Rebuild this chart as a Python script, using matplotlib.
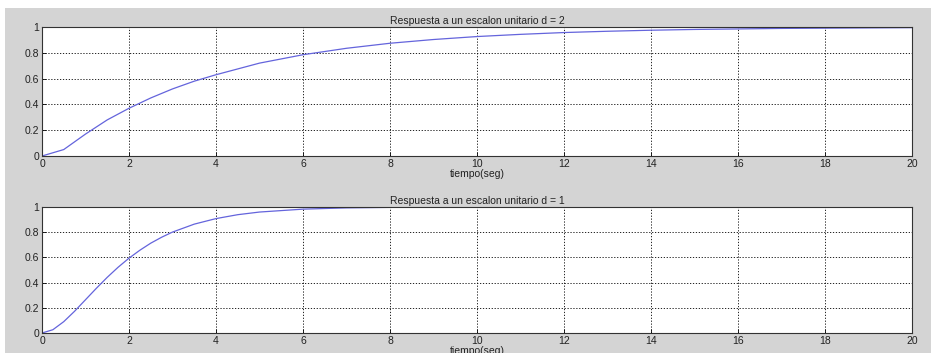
import matplotlib
matplotlib.use("Agg")
from matplotlib import pyplot as plt
from matplotlib.patches import Rectangle

# step response, damping d = 2
t_d2 = [0, 0.5, 1, 1.5, 2, 2.5, 3, 3.5, 4, 5, 6, 7, 8, 9, 10,
        11, 12, 13, 14, 15, 16, 17, 18, 19, 20]
y_d2 = [0, 0.05, 0.17, 0.28, 0.37, 0.45, 0.52, 0.58, 0.63, 0.72, 0.785,
        0.835, 0.874, 0.903, 0.926, 0.943, 0.957, 0.967, 0.975, 0.981,
        0.985, 0.989, 0.991, 0.993, 0.995]

# step response, damping d = 1
t_d1 = [0, 0.25, 0.5, 0.75, 1, 1.25, 1.5, 1.75, 2, 2.25, 2.5, 2.75, 3, 3.5, 4,
        4.5, 5, 6, 7, 8, 10, 20]
y_d1 = [0, 0.026, 0.09, 0.173, 0.264, 0.355, 0.442, 0.522, 0.594, 0.657,
        0.713, 0.76, 0.801, 0.864, 0.908, 0.939, 0.96, 0.983, 0.993, 0.997,
        0.9995, 1.0]

titles = ["Respuesta a un escalon unitario d = 2",
          "Respuesta a un escalon unitario d = 1"]
x_ticks = [0, 2, 4, 6, 8, 10, 12, 14, 16, 18, 20]
y_ticks = [0, 0.2, 0.4, 0.6, 0.8, 1]
y_labels = ["0", "0.2", "0.4", "0.6", "0.8", "1"]

plt.rcParams["font.family"] = ["Liberation Sans", "DejaVu Sans"]
plt.rcParams["font.size"] = 7.5

W, H = 931, 353
fig = plt.figure(figsize=(W / 100, H / 100), dpi=100, facecolor="white")
# grey window, with the white strip at top and left of the screenshot
fig.patches.append(Rectangle((5 / W, 0), 1, (H - 8) / H, transform=fig.transFigure,
                             facecolor="#d4d4d4", edgecolor="none", zorder=-10))

left, right = 42, 912
boxes = [(27, 156), (207, 333)]
series = [(t_d2, y_d2), (t_d1, y_d1)]

for (top, bottom), (t, y), title in zip(boxes, series, titles):
    ax = fig.add_axes([left / W, (H - bottom) / H, (right - left) / W, (bottom - top) / H])
    ax.plot(t, y, color="#6464dc", linewidth=0.9)
    ax.set_xlim(0, 20)
    ax.set_ylim(0, 1)
    ax.set_xticks(x_ticks)
    ax.set_xticklabels([str(v) for v in x_ticks])
    ax.set_yticks(y_ticks)
    ax.set_yticklabels(y_labels)
    ax.tick_params(direction="in", length=3, width=0.6, pad=2, labelsize=7.5,
                   labelcolor="#222222")
    ax.grid(True, color="black", linestyle=(0, (1.5, 2)), linewidth=0.6)
    for s in ax.spines.values():
        s.set_linewidth(0.8)
        s.set_color("#333333")
    ax.set_title(title, fontsize=7.5, pad=2.5, color="#222222")
    ax.set_xlabel("tiempo(seg)", fontsize=7.5, labelpad=0.5, color="#222222")

fig.savefig("out.png", dpi=100, facecolor=fig.get_facecolor())
